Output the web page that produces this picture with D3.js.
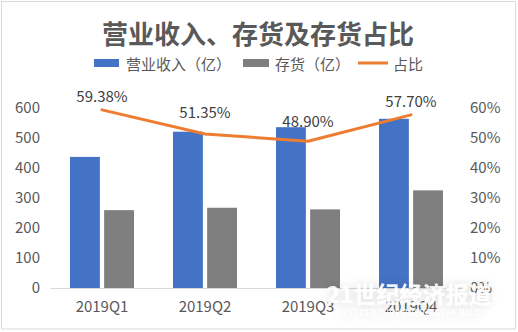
<!DOCTYPE html>
<html>
<head>
<meta charset="utf-8">
<script src="https://cdn.jsdelivr.net/npm/d3@7/dist/d3.min.js"></script>
<style>
  html, body { margin: 0; padding: 0; background: #fff; }
  svg { display: block; }
  text { font-family: "Noto Sans CJK SC", "Noto Sans", sans-serif; }
</style>
</head>
<body>
<script>
// Quarterly revenue, inventory (both in 亿) and inventory-to-revenue ratio
const quarters = ["2019Q1", "2019Q2", "2019Q3", "2019Q4"];
const revenue = [437, 521, 536, 564];
const inventory = [259.5, 267.5, 262.1, 325.4];
const ratio = [59.38, 51.35, 48.90, 57.70];
const leftTicks = [0, 100, 200, 300, 400, 500, 600];
const rightTicks = [0, 10, 20, 30, 40, 50, 60];

const W = 518, H = 332;
const svg = d3.select("body").append("svg").attr("width", W).attr("height", H);

const defs = svg.append("defs");
const glow = defs.append("filter").attr("id", "wmShadow")
  .attr("x", "-20%").attr("y", "-60%").attr("width", "140%").attr("height", "220%");
glow.append("feGaussianBlur").attr("in", "SourceAlpha").attr("stdDeviation", 4).attr("result", "b");
glow.append("feFlood").attr("flood-color", "#000").attr("flood-opacity", 0.18);
glow.append("feComposite").attr("in2", "b").attr("operator", "in").attr("result", "s");
const merge = glow.append("feMerge");
merge.append("feMergeNode").attr("in", "s");
merge.append("feMergeNode").attr("in", "SourceGraphic");

// chart frame
svg.append("rect").attr("x", 1.5).attr("y", 1.5).attr("width", W - 4).attr("height", H - 4.5)
  .attr("fill", "#fff").attr("stroke", "#d9d9d9").attr("stroke-width", 1);

// title
svg.append("text").attr("x", 258).attr("y", 32).attr("text-anchor", "middle")
  .attr("dominant-baseline", "central").attr("font-size", 26).attr("font-weight", 700)
  .attr("fill", "#595959").text("营业收入、存货及存货占比");

// legend
const lg = svg.append("g").attr("font-size", 15).attr("fill", "#595959");
lg.append("rect").attr("x", 94).attr("y", 59).attr("width", 25).attr("height", 8).attr("fill", "#4472C4");
lg.append("text").attr("x", 126).attr("y", 63).attr("dominant-baseline", "central").text("营业收入（亿）");
lg.append("rect").attr("x", 243).attr("y", 59).attr("width", 26).attr("height", 8).attr("fill", "#7F7F7F");
lg.append("text").attr("x", 275).attr("y", 63).attr("dominant-baseline", "central").text("存货（亿）");
lg.append("line").attr("x1", 358).attr("x2", 388).attr("y1", 63).attr("y2", 63)
  .attr("stroke", "#ED7D31").attr("stroke-width", 3);
lg.append("text").attr("x", 393).attr("y", 63).attr("dominant-baseline", "central").text("占比");

// scales
const y = d3.scaleLinear().domain([0, 600]).range([288, 108]);
const yR = d3.scaleLinear().domain([0, 60]).range([288, 108]);
const x = d3.scaleBand().domain(quarters).range([50.5, 462.5]);
const sub = d3.scaleBand().domain(["rev", "inv"]).range([19.5, 83.5]).paddingInner(0.125);

// left axis
const axL = svg.append("g").attr("transform", "translate(40,0)")
  .call(d3.axisLeft(y).tickValues(leftTicks).tickSize(0).tickPadding(0));
axL.select(".domain").remove();
axL.selectAll("text").attr("font-size", 15).attr("fill", "#595959")
  .attr("font-family", "'Open Sans', 'Noto Sans', sans-serif").attr("dy", "0.32em");

// right axis
const axR = svg.append("g").attr("transform", "translate(470,0)")
  .call(d3.axisRight(yR).tickValues(rightTicks).tickSize(0).tickPadding(0).tickFormat(d => d + "%"));
axR.select(".domain").remove();
axR.selectAll("text").attr("font-size", 15).attr("fill", "#595959")
  .attr("font-family", "'Open Sans', 'Noto Sans', sans-serif").attr("dy", "0.32em");

// bars
const g = svg.append("g");
g.selectAll("rect.rev").data(quarters).join("rect").attr("class", "rev")
  .attr("x", d => x(d) + sub("rev")).attr("width", sub.bandwidth())
  .attr("y", (d, i) => y(revenue[i])).attr("height", (d, i) => y(0) - y(revenue[i]))
  .attr("fill", "#4472C4");
g.selectAll("rect.inv").data(quarters).join("rect").attr("class", "inv")
  .attr("x", d => x(d) + sub("inv")).attr("width", sub.bandwidth())
  .attr("y", (d, i) => y(inventory[i])).attr("height", (d, i) => y(0) - y(inventory[i]))
  .attr("fill", "#7F7F7F");

// category axis
svg.append("line").attr("x1", 50.5).attr("x2", 462.5).attr("y1", 288.5).attr("y2", 288.5)
  .attr("stroke", "#d9d9d9").attr("stroke-width", 1);
const axB = svg.append("g").attr("transform", "translate(0,288)")
  .call(d3.axisBottom(x).tickSize(0).tickPadding(13));
axB.select(".domain").remove();
axB.selectAll("text").attr("font-size", 15).attr("fill", "#595959")
  .attr("font-family", "'Open Sans', 'Noto Sans', sans-serif");

// ratio line
const cx = d => x(d) + x.bandwidth() / 2;
svg.append("path").datum(quarters)
  .attr("d", d3.line().x(cx).y((d, i) => yR(ratio[i])))
  .attr("fill", "none").attr("stroke", "#ED7D31").attr("stroke-width", 3)
  .attr("stroke-linejoin", "round").attr("stroke-linecap", "round");

// ratio labels
const lift = [14, 22, 21, 14];
svg.selectAll("text.lbl").data(quarters).join("text").attr("class", "lbl")
  .attr("x", cx).attr("y", (d, i) => yR(ratio[i]) - lift[i])
  .attr("text-anchor", "middle").attr("dominant-baseline", "central")
  .attr("font-size", 15).attr("fill", "#404040")
  .attr("font-family", "'Open Sans', 'Noto Sans', sans-serif")
  .text((d, i) => ratio[i].toFixed(2) + "%");

// publisher mark
const wm = svg.append("g").attr("filter", "url(#wmShadow)").attr("fill", "#fff").attr("fill-opacity", 0.9);
wm.append("text").attr("x", 409).attr("y", 293).attr("text-anchor", "middle")
  .attr("dominant-baseline", "central").attr("font-size", 23).attr("font-weight", 700)
  .attr("font-family", "'Noto Serif CJK SC', 'Noto Sans CJK SC', serif")
  .text("21世纪经济报道");
wm.append("text").attr("x", 409).attr("y", 312).attr("text-anchor", "middle")
  .attr("dominant-baseline", "central").attr("font-size", 8.5)
  .attr("font-family", "'DejaVu Serif', serif").attr("letter-spacing", 0.3)
  .text("21ST CENTURY BUSINESS HERALD");
</script>
</body>
</html>
